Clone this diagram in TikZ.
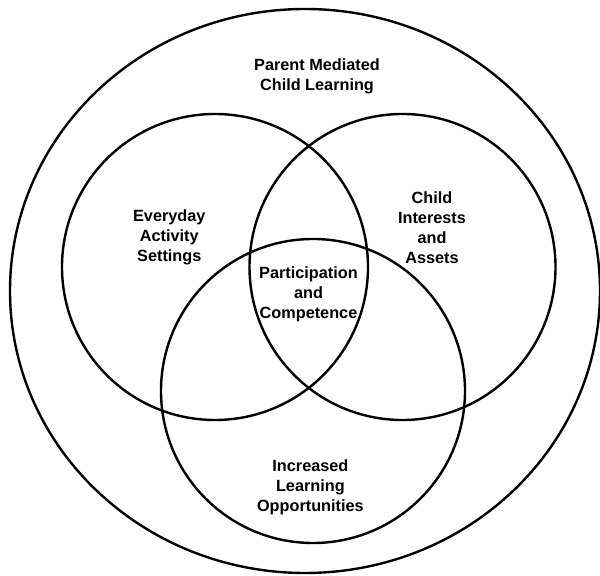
\documentclass[tikz,border=0pt]{standalone}
\usepackage{fontspec}
\setmainfont{Liberation Sans}
\usepackage{tkz-euclide}

\tikzset{
  rotulo/.style={align=center, font=\fontsize{12.2}{15}\selectfont\bfseries, inner sep=0pt},
  trazo/.style={line width=1.8pt, black}
}

\begin{document}
\begin{tikzpicture}[x=0.75pt, y=0.75pt]
        % Paso 1: Fija el marco de la figura
        \useasboundingbox (0,0) rectangle (600,575);

        % Paso 2: Define los centros de los circulos
        \tkzDefPoint(305,284){O} % Centro exterior
        \tkzDefPoint(215,308){E} % Centro izquierdo
        \tkzDefPoint(402.5,308){I} % Centro derecho
        \tkzDefPoint(313,184){L} % Centro inferior

        % Paso 3: Define un punto de cada circunferencia
        \tkzDefPoint(368,308){E1}
        \tkzDefPoint(555.5,308){I1}
        \tkzDefPoint(465,184){L1}

        % Paso 4: Dibuja la elipse exterior
        \draw[trazo] (O) ellipse [x radius=295, y radius=282];

        % Paso 5: Dibuja las tres circunferencias
        \tkzDrawCircle[trazo](E,E1)
        \tkzDrawCircle[trazo](I,I1)
        \tkzDrawCircle[trazo](L,L1)

        % Paso 6: Escribe los rotulos
        \node[rotulo] (padres) at (317,499) {Parent Mediated\\Child Learning};
        \node[rotulo] (actividad) at (169.3,337.7) {Everyday\\Activity\\Settings};
        \node[rotulo] (intereses) at (432,347) {Child\\Interests\\and\\Assets};
        \node[rotulo] (participa) at (308.5,281) {Participation\\and\\Competence};
        \node[rotulo] (oportunidad) at (310.4,87.4) {Increased\\Learning\\Opportunities};
    \end{tikzpicture}
\end{document}
